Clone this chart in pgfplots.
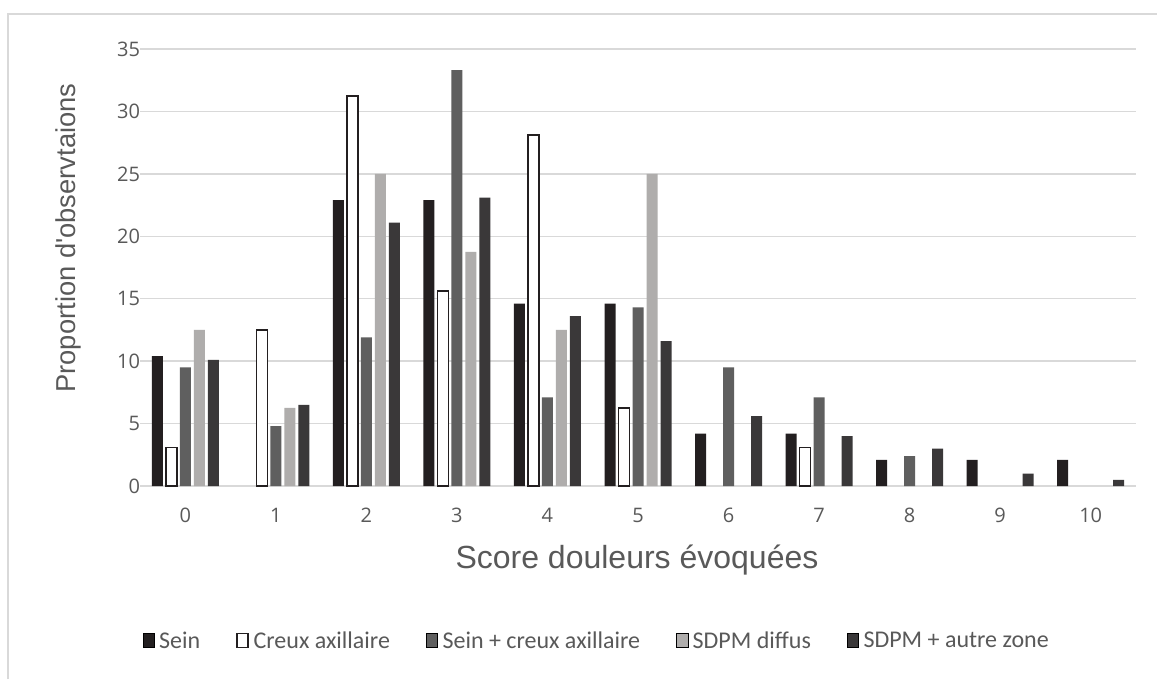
\documentclass[border=0pt]{standalone}
\usepackage{pgfplots}
\pgfplotsset{compat=1.18}
\usepackage{fontspec}
\setmainfont{Liberation Sans}
\newfontfamily\tickfont{Open Sans}
\newfontfamily\legfont{Carlito}
\definecolor{txt}{HTML}{595959}
\definecolor{gridc}{HTML}{D9D9D9}
\definecolor{cA}{HTML}{231F20}
\definecolor{cC}{HTML}{5F5F5F}
\definecolor{cD}{HTML}{AFADAC}
\definecolor{cE}{HTML}{3A3839}
\begin{document}
\begin{tikzpicture}
\useasboundingbox (0,0) rectangle (867.75pt,509.25pt);
\fill[white] (0,0) rectangle (867.75pt,509.25pt);
\draw[gridc, line width=1pt] (6pt,0) -- (6pt,498.75pt) -- (867.75pt,498.75pt);
\begin{axis}[
  at={(105pt,144.75pt)}, anchor=south west,
  scale only axis, width=747pt, height=327.75pt,
  xmin=-0.5, xmax=10.5, ymin=0, ymax=35,
  ytick={0,5,...,35}, xtick={0,...,10},
  axis line style={draw=none},
  major tick length=0pt,
  ymajorgrids, xmajorgrids=false, grid style={gridc, line width=1.1pt},
  ybar=2.25pt, bar width=8.25pt,
  /pgf/number format/assume math mode=true,
  tick label style={font=\tickfont\fontsize{15}{18}\selectfont, text=txt},
  yticklabel style={xshift=3.5pt},
  xticklabel style={yshift=-13pt},
  legend columns=5,
  legend style={at={(0.4588,-0.3547)}, anchor=center, draw=none, fill=none,
    font=\legfont\fontsize{18}{21}\selectfont, text=txt,
    /tikz/every even column/.append style={column sep=25pt},
    /tikz/every odd column/.append style={column sep=1.5pt},
    nodes={inner xsep=2pt}},
  legend cell align=left,
  legend image code/.code={\draw[#1] (0pt,-5pt) rectangle (8.5pt,5.5pt);},
]
\addplot[fill=cA, draw=none] coordinates {(0,10.4) (2,22.9) (3,22.9) (4,14.6) (5,14.6) (6,4.2) (7,4.2) (8,2.1) (9,2.1) (10,2.1)};
\addplot[fill=white, draw=cA, line width=1.1pt] coordinates {(0,3.1) (1,12.5) (2,31.25) (3,15.6) (4,28.1) (5,6.25) (7,3.1)};
\addplot[fill=cC, draw=none] coordinates {(0,9.5) (1,4.8) (2,11.9) (3,33.3) (4,7.1) (5,14.3) (6,9.5) (7,7.1) (8,2.4)};
\addplot[fill=cD, draw=none] coordinates {(0,12.5) (1,6.25) (2,25) (3,18.75) (4,12.5) (5,25)};
\addplot[fill=cE, draw=none] coordinates {(0,10.1) (1,6.5) (2,21.1) (3,23.1) (4,13.6) (5,11.6) (6,5.6) (7,4.0) (8,3.0) (9,1.0) (10,0.5)};
\legend{Sein, Creux axillaire, Sein + creux axillaire, SDPM diffus, SDPM + autre zone}
\end{axis}
\node[text=txt, font=\fontsize{20.5}{24}\selectfont, rotate=90] at (51pt,330.75pt) {Proportion d\textquotesingle observtaions};
\node[text=txt, font=\fontsize{24}{28}\selectfont] at (477.75pt,89.25pt) {Score douleurs évoquées};
\end{tikzpicture}
\end{document}
